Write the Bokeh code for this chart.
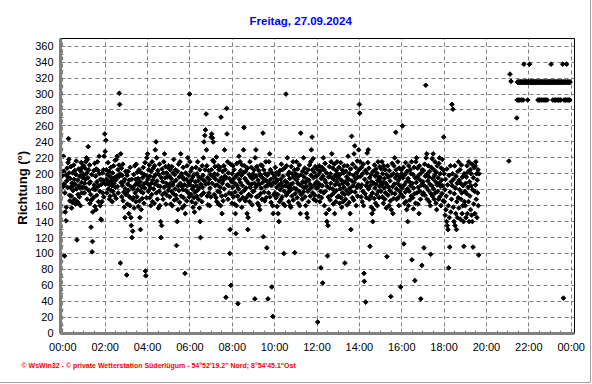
import math
from bokeh.plotting import figure
from bokeh.models import FixedTicker, Title, ColumnDataSource
from bokeh.embed import file_html
from bokeh.resources import INLINE

TITLE = "Freitag, 27.09.2024"
Y_LABEL = "Richtung  (°)"
FOOTER = "© WsWin32  -  © private Wetterstation Süderlügum  -  54°52'19.2\" Nord; 8°54'45.1\"Ost"

x_ticks = [0, 2, 4, 6, 8, 10, 12, 14, 16, 18, 20, 22, 24]
x_tick_labels = ["00:00", "02:00", "04:00", "06:00", "08:00", "10:00", "12:00",
                 "14:00", "16:00", "18:00", "20:00", "22:00", "00:00"]
y_ticks = [0, 20, 40, 60, 80, 100, 120, 140, 160, 180, 200, 220, 240, 260, 280, 300, 320, 340, 360]

# wind direction (degrees), one reading per minute, one list per hour
h00 = [198, 184, 222, 203, 187, 97, 176, 152, 199, 141, 158, 191, 207, 183, 196, 214, 244, 218, 201, 173,
       166, 194, 183, 209, 172, 157, 188, 164, 201, 179, 185, 211, 193, 168, 204, 187, 162, 199, 216, 181,
       117, 165, 192, 174, 163, 206, 185, 171, 197, 182, 160, 203, 214, 189, 176, 208, 195, 183, 199, 210]
h01 = [198, 176, 188, 207, 193, 215, 182, 220, 201, 168, 218, 195, 234, 205, 179, 188, 211, 163, 190, 174,
       133, 167, 199, 102, 115, 152, 181, 170, 204, 186, 213, 159, 180, 197, 155, 206, 173, 190, 215, 184,
       204, 165, 185, 222, 200, 178, 160, 193, 143, 142, 187, 165, 201, 176, 192, 205, 171, 222, 188, 250]
h02 = [228, 187, 242, 205, 193, 176, 199, 188, 214, 181, 190, 203, 168, 186, 172, 196, 208, 179, 191, 185,
       165, 201, 178, 194, 210, 188, 173, 195, 217, 183, 192, 169, 218, 197, 222, 184, 205, 176, 196, 211,
       301, 287, 200, 88, 225, 189, 207, 171, 198, 185, 212, 166, 190, 177, 158, 193, 145, 181, 203, 174]
h03 = [175, 73, 198, 162, 187, 203, 179, 150, 192, 171, 160, 208, 184, 145, 135, 193, 120, 168, 128, 181,
       170, 199, 157, 185, 210, 176, 193, 165, 212, 188, 171, 202, 180, 194, 159, 186, 205, 166, 145, 190,
       130, 178, 155, 201, 183, 169, 195, 176, 208, 187, 163, 199, 182, 214, 78, 72, 189, 170, 220, 197]
h04 = [225, 193, 178, 205, 186, 211, 170, 197, 182, 160, 203, 188, 174, 215, 165, 192, 207, 181, 196, 163,
       210, 187, 230, 199, 240, 176, 220, 191, 168, 204, 185, 157, 199, 178, 212, 160, 184, 140, 120, 195,
       135, 206, 174, 190, 168, 201, 215, 183, 225, 176, 195, 209, 162, 188, 201, 173, 196, 185, 208, 179]
h05 = [210, 183, 197, 171, 205, 188, 162, 194, 178, 209, 160, 186, 201, 175, 218, 190, 167, 199, 181, 205,
       173, 192, 110, 168, 140, 203, 155, 185, 212, 179, 196, 164, 215, 188, 225, 172, 200, 184, 157, 196,
       180, 208, 170, 193, 160, 186, 75, 150, 201, 179, 193, 166, 210, 185, 220, 176, 198, 189, 171, 300]
h06 = [215, 186, 203, 174, 192, 165, 207, 181, 196, 158, 184, 170, 199, 152, 177, 190, 163, 208, 185, 172,
       200, 179, 215, 191, 168, 196, 182, 157, 205, 140, 120, 187, 173, 194, 165, 210, 183, 198, 220, 176,
       240, 191, 248, 205, 255, 187, 275, 230, 210, 172, 195, 161, 188, 204, 176, 193, 160, 182, 199, 171]
h07 = [246, 205, 250, 188, 245, 217, 240, 196, 215, 174, 200, 209, 185, 193, 170, 221, 165, 186, 199, 178,
       210, 162, 205, 191, 177, 208, 183, 160, 271, 195, 172, 150, 188, 203, 166, 192, 210, 181, 230, 197,
       205, 173, 45, 195, 282, 250, 186, 215, 168, 201, 185, 176, 194, 100, 130, 212, 60, 175, 190, 163]
h08 = [200, 183, 210, 171, 194, 205, 162, 188, 177, 150, 125, 197, 160, 213, 185, 172, 37, 200, 181, 222,
       193, 167, 215, 189, 204, 176, 198, 158, 211, 185, 170, 201, 230, 258, 179, 210, 194, 166, 203, 182,
       170, 191, 150, 207, 130, 145, 188, 174, 199, 165, 215, 183, 196, 172, 208, 187, 161, 194, 178, 200]
h09 = [195, 178, 205, 188, 43, 220, 183, 230, 197, 171, 209, 186, 163, 192, 172, 204, 160, 187, 155, 199,
       175, 211, 182, 196, 168, 210, 189, 251, 121, 205, 177, 193, 166, 200, 184, 215, 170, 191, 107, 198,
       185, 43, 200, 176, 215, 188, 225, 171, 205, 193, 164, 185, 58, 201, 160, 21, 150, 189, 174, 197]
h10 = [195, 176, 208, 189, 170, 201, 183, 159, 192, 174, 150, 199, 140, 186, 165, 204, 180, 193, 168, 212,
       188, 171, 205, 184, 197, 162, 100, 178, 207, 160, 191, 185, 300, 173, 210, 189, 220, 176, 199, 183,
       165, 202, 178, 194, 160, 186, 158, 209, 181, 172, 200, 188, 215, 167, 196, 182, 205, 101, 175, 193]
h11 = [200, 181, 215, 193, 170, 206, 188, 163, 197, 178, 211, 160, 186, 150, 251, 174, 199, 185, 168, 203,
       190, 177, 220, 196, 182, 207, 171, 189, 160, 201, 184, 150, 193, 145, 178, 205, 165, 192, 180, 211,
       187, 172, 215, 198, 230, 183, 246, 205, 176, 219, 195, 168, 202, 186, 173, 209, 188, 166, 197, 182]
h12 = [190, 206, 14, 183, 199, 172, 210, 187, 165, 203, 178, 82, 194, 170, 208, 185, 63, 197, 220, 176,
       205, 160, 192, 213, 178, 189, 150, 201, 140, 184, 97, 135, 171, 196, 155, 209, 182, 167, 200, 188,
       215, 173, 225, 195, 181, 207, 162, 193, 176, 212, 150, 186, 198, 165, 204, 179, 190, 215, 171, 200]
h13 = [195, 172, 208, 186, 163, 199, 181, 214, 170, 192, 158, 205, 176, 188, 165, 201, 183, 210, 174, 88,
       190, 168, 203, 179, 196, 161, 210, 187, 222, 175, 193, 164, 200, 182, 150, 206, 130, 178, 247, 191,
       170, 212, 185, 198, 167, 225, 189, 235, 177, 208, 194, 160, 201, 183, 216, 172, 196, 186, 230, 205]
h14 = [287, 276, 215, 183, 197, 171, 208, 186, 165, 200, 178, 212, 160, 75, 65, 193, 175, 204, 39, 185,
       170, 201, 226, 189, 214, 230, 181, 207, 168, 195, 109, 185, 172, 199, 158, 190, 150, 176, 140, 203,
       155, 188, 169, 211, 182, 197, 163, 206, 187, 174, 201, 160, 192, 215, 178, 196, 170, 209, 184, 190]
h15 = [195, 178, 206, 186, 215, 171, 200, 189, 163, 210, 182, 194, 168, 205, 176, 188, 157, 199, 96, 185,
       210, 173, 196, 183, 160, 204, 179, 191, 166, 46, 155, 198, 176, 213, 184, 150, 200, 169, 210, 187,
       220, 175, 195, 252, 205, 181, 168, 199, 188, 215, 170, 192, 160, 207, 178, 185, 196, 58, 174, 205]
h16 = [200, 182, 260, 195, 171, 208, 112, 186, 163, 199, 177, 214, 165, 190, 155, 203, 181, 140, 194, 160,
       210, 178, 190, 167, 205, 185, 200, 172, 215, 92, 188, 170, 199, 156, 182, 208, 175, 66, 195, 163,
       215, 189, 220, 176, 195, 207, 162, 183, 198, 150, 210, 178, 192, 168, 43, 201, 186, 85, 205, 174]
h17 = [190, 176, 204, 107, 185, 212, 173, 197, 311, 220, 183, 225, 168, 200, 191, 210, 179, 196, 165, 203,
       187, 160, 99, 175, 208, 185, 219, 172, 194, 225, 181, 205, 168, 198, 215, 176, 190, 163, 202, 155,
       186, 210, 178, 195, 168, 213, 188, 220, 171, 200, 184, 160, 207, 192, 175, 218, 185, 166, 205, 246]
h18 = [200, 165, 180, 148, 193, 155, 172, 140, 206, 135, 186, 130, 160, 82, 198, 145, 108, 177, 210, 152,
       190, 168, 287, 185, 200, 281, 158, 193, 140, 175, 210, 135, 182, 150, 197, 130, 165, 188, 145, 203,
       170, 215, 157, 192, 180, 205, 143, 188, 168, 211, 176, 150, 196, 160, 185, 140, 109, 200, 165, 178]
h19 = [160, 188, 145, 196, 175, 210, 150, 202, 183, 165, 215, 140, 190, 172, 205, 155, 185, 200, 148, 212,
       140, 180, 108, 195, 162, 208, 178, 150, 210, 186, 215, 168, 200, 145, 192, 176, 205, 160, 98, 200]

# isolated readings after the gap (hour of day, degrees)
extra_hour = [21.06, 21.11, 21.16]
extra_dir = [216, 325, 316]

# one reading per minute from 21:26 to 23:57
late_start_hour = 21 + 26 / 60
late_dir = [
    270, 292.5, 315, 315, 315, 292.5, 315, 315, 315, 292.5,
    315, 315, 315, 315, 292.5, 315, 315, 315, 292.5, 315,
    337.5, 315, 315, 315, 315, 315, 315, 315, 315, 315,
    315, 292.5, 315, 315, 315, 315, 337.5, 315, 315, 315,
    315, 315, 315, 315, 315, 315, 315, 315, 315, 315,
    315, 315, 315, 315, 315, 315, 315, 315, 315, 315,
    292.5, 315, 315, 292.5, 315, 315, 292.5, 315, 315, 315,
    292.5, 315, 315, 315, 292.5, 315, 315, 315, 292.5, 315,
    315, 315, 292.5, 315, 315, 315, 292.5, 315, 315, 315,
    315, 315, 315, 315, 315, 315, 315, 337.5, 315, 315,
    315, 315, 292.5, 315, 315, 315, 292.5, 315, 315, 315,
    292.5, 315, 315, 315, 292.5, 315, 315, 315, 292.5, 315,
    315, 315, 292.5, 315, 315, 292.5, 315, 315, 315, 315,
    337.5, 315, 44, 315, 292.5, 315, 315, 292.5, 315, 315,
    292.5, 337.5, 315, 315, 292.5, 315, 315, 292.5, 315, 315,
    292.5, 315,
]

hourly = [h00, h01, h02, h03, h04, h05, h06, h07, h08, h09,
          h10, h11, h12, h13, h14, h15, h16, h17, h18, h19]
hours, dirs = [], []
for hr, vals in enumerate(hourly):
    for i, v in enumerate(vals):
        hours.append(hr + i / 60)
        dirs.append(v)
hours += extra_hour
dirs += extra_dir
for i, v in enumerate(late_dir):
    hours.append(late_start_hour + i / 60)
    dirs.append(v)
src = ColumnDataSource(data=dict(h=hours, d=dirs))

FONT = "Liberation Sans"
GRID = "#808080"

p = figure(width=591, height=383, output_backend="svg", toolbar_location=None,
           x_range=(-0.109, 24.156), y_range=(-0.4, 369.7),
           min_border_left=60, min_border_right=17, min_border_top=38,
           min_border_bottom=50, background_fill_color="white",
           border_fill_color="white")
p.styles = {"border-right": "1px solid #a0a0a0", "border-bottom": "1px solid #a0a0a0"}
p.outline_line_color = "black"
p.outline_line_width = 1

p.xaxis.ticker = FixedTicker(ticks=x_ticks, minor_ticks=[i * 0.5 for i in range(49)])
p.xaxis.major_label_overrides = {t: lab for t, lab in zip(x_ticks, x_tick_labels)}
p.yaxis.ticker = FixedTicker(ticks=y_ticks, minor_ticks=list(range(0, 361, 10)))
p.yaxis.axis_label = Y_LABEL
p.xgrid.ticker = FixedTicker(ticks=x_ticks)
p.ygrid.ticker = FixedTicker(ticks=y_ticks)

for g in (p.xgrid[0], p.ygrid[0]):
    g.grid_line_color = GRID
    g.grid_line_dash = "4 3"
    g.grid_line_width = 1

for ax in (p.xaxis[0], p.yaxis[0]):
    ax.axis_line_color = GRID
    ax.axis_line_width = 3
    ax.major_tick_in = 5
    ax.major_tick_out = 0
    ax.minor_tick_in = 3
    ax.minor_tick_out = 0
    ax.major_tick_line_color = GRID
    ax.minor_tick_line_color = GRID
    ax.major_label_text_font = FONT
    ax.major_label_text_font_size = "11px"
    ax.major_label_text_color = "black"
p.xaxis.major_label_standoff = 7
p.yaxis.major_label_standoff = 7
p.yaxis.axis_label_standoff = 2
p.yaxis.axis_label_text_font = FONT
p.yaxis.axis_label_text_font_size = "13px"
p.yaxis.axis_label_text_font_style = "bold"
p.yaxis.axis_label_text_color = "black"

p.scatter("h", "d", source=src, marker="square", angle=math.pi / 4, size=3.3,
          fill_color="black", line_color="black", line_width=1)

p.add_layout(Title(text=TITLE, align="left", offset=189, standoff=24,
                   text_font=FONT, text_font_size="11.5px", text_font_style="bold",
                   text_color="#0000ff"), "above")
p.add_layout(Title(text=FOOTER, align="left", offset=-39, standoff=8,
                   text_font=FONT, text_font_size="7px", text_font_style="bold",
                   text_color="#ff0000"), "below")

open("out.html", "w").write(file_html(p, INLINE))
